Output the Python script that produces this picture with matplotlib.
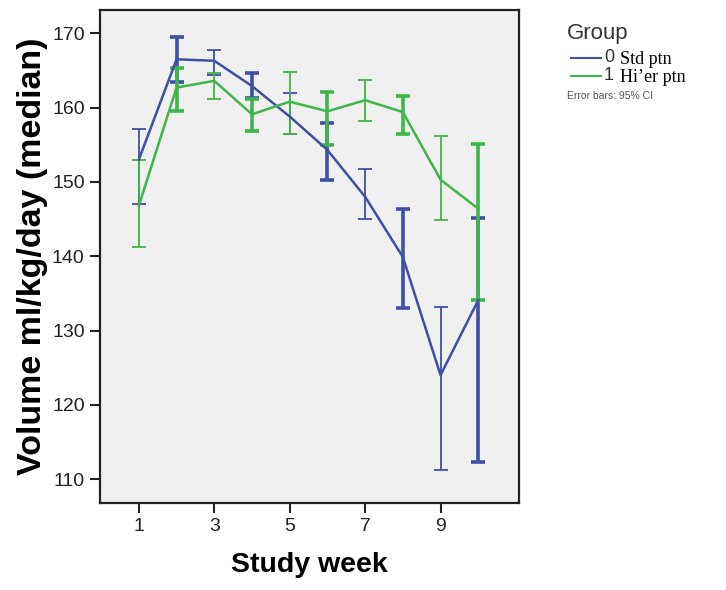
import numpy as np
import matplotlib
matplotlib.use("Agg")
import matplotlib.pyplot as plt
from matplotlib.lines import Line2D

# ── data ─────────────────────────────────────────────────────────────────
weeks = [1, 2, 3, 4, 5, 6, 7, 8, 9, 10]

std_med = [153.0, 166.5, 166.3, 162.9, 158.8, 154.3, 148.0, 139.9, 124.0, 134.1]
std_lo  = [147.0, 163.5, 164.4, 161.3, 156.5, 150.2, 145.0, 133.0, 111.2, 112.3]
std_hi  = [157.1, 169.5, 167.8, 164.6, 162.0, 157.9, 151.7, 146.4, 133.2, 145.1]

hi_med = [146.8, 162.7, 163.6, 159.1, 160.8, 159.5, 161.0, 159.4, 150.3, 146.4]
hi_lo  = [141.2, 159.5, 161.1, 156.9, 156.5, 155.0, 158.2, 156.5, 144.9, 134.1]
hi_hi  = [153.0, 165.3, 164.6, 161.2, 164.8, 162.1, 163.7, 161.5, 156.2, 155.1]

group_codes  = ["0", "1"]
group_labels = ["Std ptn", "Hi\u2019er ptn"]
xticks = [1, 3, 5, 7, 9]
yticks = [110, 120, 130, 140, 150, 160, 170]

BLUE  = "#3f4fa6"
GREEN = "#3fb54a"

plt.rcParams["font.family"] = ["Liberation Sans", "DejaVu Sans"]

fig = plt.figure(figsize=(7.26, 5.90), dpi=100)
ax = fig.add_axes([100 / 726, 87 / 590, 419 / 726, 493.5 / 590])
ax.set_facecolor("#f0f0f0")

series = [
    (std_med, std_lo, std_hi, BLUE),
    (hi_med, hi_lo, hi_hi, GREEN),
]
for med, lo, hi, col in series:
    med = np.array(med)
    lo = np.array(lo)
    hi = np.array(hi)
    ax.plot(weeks, med, color=col, lw=1.8, zorder=3)
    # SPSS render: every other bar drawn heavier
    for i, w in enumerate(weeks):
        lw = 2.6 if i % 2 == 1 else 1.3
        ax.errorbar([w], [med[i]], yerr=[[med[i] - lo[i]], [hi[i] - med[i]]],
                    fmt="none", ecolor=col, elinewidth=lw, capsize=5,
                    capthick=lw, zorder=2)

ax.set_xlim(-0.03, 11.08)
ax.set_ylim(106.8, 173.2)
ax.set_xticks(xticks)
ax.set_yticks(yticks)
ax.tick_params(axis="both", direction="out", length=7, width=1.5,
               labelsize=14, colors="#222222", pad=4)
for sp in ax.spines.values():
    sp.set_linewidth(1.6)
    sp.set_color("#222222")

ax.set_xlabel("Study week", fontsize=20.5, fontweight="bold", labelpad=12)
ax.set_ylabel("Volume ml/kg/day (median)", fontsize=24.5, fontweight="bold",
              labelpad=3)

# ── legend, drawn by hand ────────────────────────────────────────────────
def fx(px):
    return px / 726

def fy(py):
    return 1 - py / 590

fig.text(fx(567), fy(33), "Group", fontsize=16, color="#333333", va="center")
for k, (code, lab, col) in enumerate(zip(group_codes, group_labels, [BLUE, GREEN])):
    y = 58 + k * 18
    fig.add_artist(Line2D([fx(571), fx(601)], [fy(y), fy(y)],
                          color=col, lw=1.5, transform=fig.transFigure))
    fig.text(fx(604), fy(y - 1), code, fontsize=13, color="#333333", va="center")
    fig.text(fx(620), fy(y + 2), lab, fontsize=13, family="Liberation Serif",
             color="black", va="center")
fig.text(fx(567), fy(96), "Error bars: 95% CI", fontsize=7.5,
         color="#555555", va="center")

fig.savefig("out.png", dpi=100)
